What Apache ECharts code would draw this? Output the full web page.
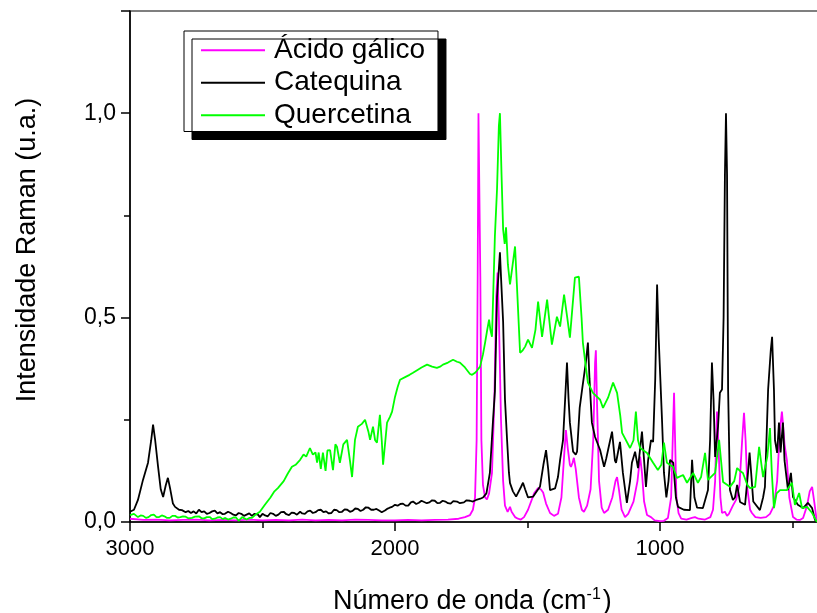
<!DOCTYPE html>
<html>
<head>
<meta charset="utf-8">
<script src="https://cdn.jsdelivr.net/npm/echarts@6/dist/echarts.min.js"></script>
<style>html,body{margin:0;padding:0;background:#fff}#c{width:817px;height:613px}</style>
</head>
<body>
<div id="c"></div>
<script>
var seriesNames = ['Ácido gálico', 'Catequina', 'Quercetina'];
var seriesColors = ['#FF00FF', '#000000', '#00FF00'];
var xTicks = [3000, 2000, 1000];
var yTicks = ['0,0', '0,5', '1,0'];

var acidoGalico = [[3000,0.008],[2950,0.005],[2900,0.006],[2850,0.004],[2800,0.005],[2750,0.006],[2700,0.004],[2650,0.005],[2600,0.004],[2550,0.006],[2500,0.004],[2450,0.005],[2400,0.004],[2350,0.006],[2300,0.004],[2250,0.005],[2200,0.004],[2150,0.006],[2100,0.005],[2050,0.004],[2000,0.004],[1950,0.005],[1900,0.004],[1850,0.005],[1800,0.006],[1760,0.008],[1736,0.012],[1717,0.017],[1706,0.03],[1698,0.06],[1692,0.2],[1688,0.6],[1685,1.0],[1681,1.0],[1678,0.6],[1674,0.2],[1668,0.09],[1660,0.06],[1653,0.055],[1645,0.07],[1634,0.12],[1625,0.3],[1618,0.55],[1613,0.61],[1608,0.5],[1600,0.25],[1592,0.1],[1585,0.04],[1575,0.025],[1566,0.037],[1560,0.025],[1547,0.012],[1536,0.008],[1525,0.006],[1513,0.012],[1498,0.03],[1475,0.07],[1460,0.083],[1450,0.08],[1441,0.072],[1430,0.045],[1415,0.022],[1400,0.015],[1385,0.02],[1372,0.06],[1362,0.16],[1355,0.225],[1348,0.18],[1340,0.14],[1336,0.135],[1330,0.145],[1325,0.157],[1318,0.13],[1306,0.06],[1295,0.03],[1287,0.025],[1275,0.04],[1262,0.08],[1252,0.2],[1245,0.39],[1242,0.42],[1238,0.3],[1230,0.1],[1220,0.035],[1211,0.022],[1196,0.03],[1180,0.06],[1168,0.1],[1162,0.11],[1155,0.08],[1145,0.03],[1132,0.012],[1120,0.02],[1100,0.05],[1085,0.1],[1075,0.16],[1068,0.12],[1060,0.05],[1049,0.017],[1042,0.02],[1034,0.012],[1020,0.004],[1000,0.002],[985,0.003],[970,0.01],[958,0.06],[952,0.2],[947,0.316],[943,0.2],[938,0.06],[930,0.022],[920,0.008],[900,0.006],[880,0.01],[868,0.012],[855,0.008],[830,0.006],[810,0.012],[800,0.03],[792,0.1],[788,0.2],[785,0.27],[780,0.2],[772,0.06],[766,0.022],[755,0.025],[747,0.015],[740,0.02],[725,0.04],[713,0.054],[700,0.09],[690,0.2],[683,0.267],[677,0.2],[670,0.08],[660,0.03],[653,0.022],[640,0.012],[620,0.01],[600,0.012],[585,0.02],[570,0.04],[558,0.1],[548,0.22],[540,0.27],[536,0.24],[530,0.19],[521,0.15],[512,0.06],[498,0.012],[485,0.006],[472,0.005],[460,0.01],[445,0.04],[435,0.075],[426,0.086],[418,0.05],[408,0.0]];

var catequina = [[3000,0.025],[2985,0.03],[2970,0.054],[2951,0.103],[2932,0.145],[2920,0.2],[2913,0.238],[2905,0.2],[2894,0.135],[2884,0.08],[2875,0.061],[2865,0.09],[2857,0.108],[2848,0.08],[2838,0.045],[2830,0.037],[2815,0.03],[2804,0.029],[2790,0.024],[2780,0.027],[2770,0.022],[2760,0.026],[2750,0.021],[2740,0.03],[2730,0.024],[2720,0.026],[2710,0.02],[2700,0.022],[2690,0.026],[2680,0.028],[2670,0.021],[2660,0.024],[2650,0.019],[2642,0.02],[2630,0.025],[2620,0.022],[2610,0.018],[2600,0.016],[2590,0.022],[2580,0.02],[2570,0.015],[2560,0.018],[2550,0.021],[2540,0.015],[2530,0.02],[2517,0.018],[2510,0.012],[2500,0.02],[2490,0.016],[2480,0.014],[2470,0.022],[2460,0.02],[2450,0.015],[2440,0.018],[2430,0.024],[2420,0.025],[2410,0.019],[2400,0.017],[2390,0.023],[2380,0.022],[2370,0.018],[2358,0.025],[2350,0.021],[2340,0.02],[2330,0.026],[2320,0.028],[2310,0.022],[2300,0.024],[2290,0.029],[2280,0.03],[2270,0.024],[2260,0.026],[2250,0.021],[2240,0.022],[2230,0.03],[2220,0.029],[2210,0.024],[2200,0.025],[2190,0.031],[2180,0.03],[2170,0.025],[2160,0.027],[2150,0.033],[2140,0.032],[2130,0.027],[2120,0.03],[2110,0.036],[2100,0.035],[2090,0.03],[2080,0.03],[2070,0.032],[2060,0.028],[2050,0.024],[2045,0.02],[2038,0.028],[2030,0.032],[2020,0.035],[2011,0.037],[2000,0.042],[1990,0.04],[1980,0.044],[1970,0.045],[1960,0.04],[1950,0.04],[1940,0.048],[1932,0.05],[1920,0.044],[1910,0.047],[1900,0.052],[1894,0.05],[1880,0.046],[1870,0.048],[1860,0.053],[1850,0.052],[1840,0.046],[1830,0.047],[1820,0.052],[1810,0.05],[1800,0.046],[1790,0.045],[1780,0.051],[1766,0.05],[1755,0.046],[1740,0.048],[1730,0.053],[1717,0.052],[1706,0.05],[1690,0.055],[1678,0.057],[1668,0.06],[1655,0.07],[1642,0.12],[1630,0.25],[1623,0.32],[1615,0.55],[1608,0.62],[1604,0.66],[1600,0.6],[1592,0.49],[1585,0.3],[1577,0.2],[1570,0.12],[1566,0.095],[1555,0.075],[1543,0.062],[1536,0.065],[1525,0.085],[1517,0.096],[1509,0.08],[1498,0.06],[1479,0.062],[1465,0.075],[1453,0.086],[1440,0.14],[1430,0.176],[1422,0.13],[1415,0.078],[1396,0.082],[1385,0.11],[1377,0.152],[1366,0.2],[1358,0.3],[1351,0.39],[1345,0.3],[1340,0.243],[1328,0.172],[1318,0.165],[1313,0.172],[1303,0.28],[1294,0.324],[1287,0.328],[1280,0.39],[1272,0.439],[1266,0.35],[1257,0.243],[1245,0.208],[1226,0.176],[1211,0.135],[1203,0.155],[1196,0.176],[1181,0.221],[1170,0.15],[1166,0.145],[1151,0.196],[1140,0.12],[1125,0.047],[1113,0.1],[1106,0.145],[1094,0.172],[1083,0.132],[1068,0.221],[1060,0.15],[1053,0.086],[1045,0.15],[1034,0.2],[1026,0.196],[1018,0.35],[1011,0.581],[1005,0.45],[992,0.243],[985,0.12],[976,0.06],[968,0.1],[962,0.152],[955,0.152],[950,0.145],[940,0.06],[932,0.037],[910,0.03],[887,0.029],[879,0.152],[870,0.06],[860,0.035],[838,0.034],[819,0.078],[811,0.2],[804,0.39],[798,0.3],[792,0.159],[781,0.233],[774,0.316],[766,0.324],[760,0.5],[755,0.85],[751,1.0],[747,0.85],[743,0.324],[736,0.078],[725,0.054],[717,0.06],[709,0.091],[698,0.049],[679,0.042],[668,0.12],[662,0.17],[656,0.12],[648,0.05],[641,0.049],[623,0.029],[611,0.06],[604,0.086],[592,0.324],[582,0.42],[577,0.453],[570,0.324],[566,0.2],[558,0.169],[551,0.243],[545,0.17],[536,0.243],[530,0.15],[525,0.15],[517,0.078],[506,0.12],[498,0.061],[480,0.042],[460,0.034],[442,0.047],[426,0.034],[415,0.005],[408,0.0]];

var quercetina = [[3000,0.017],[2985,0.02],[2970,0.012],[2960,0.016],[2950,0.015],[2940,0.01],[2930,0.012],[2920,0.017],[2910,0.018],[2900,0.012],[2890,0.012],[2880,0.016],[2870,0.014],[2860,0.01],[2850,0.01],[2840,0.015],[2830,0.015],[2820,0.011],[2810,0.012],[2800,0.014],[2790,0.013],[2780,0.009],[2766,0.01],[2755,0.013],[2740,0.014],[2730,0.009],[2720,0.009],[2710,0.012],[2698,0.012],[2690,0.007],[2680,0.008],[2670,0.011],[2660,0.012],[2650,0.007],[2642,0.01],[2630,0.006],[2620,0.008],[2610,0.011],[2600,0.011],[2590,0.003],[2577,0.012],[2570,0.008],[2560,0.006],[2550,0.01],[2540,0.01],[2528,0.017],[2510,0.025],[2491,0.042],[2470,0.06],[2455,0.075],[2442,0.083],[2420,0.1],[2405,0.118],[2389,0.135],[2375,0.14],[2358,0.152],[2345,0.165],[2335,0.16],[2321,0.181],[2310,0.165],[2300,0.17],[2294,0.145],[2288,0.17],[2280,0.13],[2272,0.17],[2262,0.125],[2255,0.175],[2245,0.176],[2234,0.127],[2225,0.19],[2219,0.184],[2208,0.145],[2195,0.19],[2181,0.201],[2170,0.15],[2162,0.11],[2151,0.201],[2140,0.233],[2125,0.24],[2113,0.25],[2100,0.22],[2094,0.201],[2083,0.233],[2075,0.2],[2068,0.194],[2057,0.262],[2050,0.2],[2045,0.14],[2030,0.243],[2019,0.257],[2011,0.27],[2000,0.306],[1990,0.33],[1981,0.348],[1960,0.355],[1945,0.36],[1932,0.365],[1915,0.372],[1900,0.378],[1879,0.385],[1860,0.38],[1842,0.377],[1830,0.38],[1819,0.385],[1800,0.39],[1781,0.397],[1766,0.392],[1755,0.39],[1736,0.378],[1717,0.362],[1709,0.36],[1698,0.365],[1691,0.37],[1679,0.38],[1668,0.41],[1660,0.439],[1652,0.47],[1645,0.495],[1640,0.47],[1634,0.453],[1623,0.7],[1615,0.814],[1608,0.97],[1604,1.0],[1598,0.85],[1592,0.716],[1586,0.68],[1581,0.721],[1574,0.63],[1566,0.581],[1558,0.62],[1547,0.674],[1540,0.58],[1528,0.414],[1518,0.42],[1509,0.429],[1498,0.446],[1483,0.426],[1470,0.47],[1460,0.539],[1445,0.453],[1426,0.544],[1408,0.434],[1389,0.502],[1377,0.478],[1362,0.556],[1350,0.5],[1340,0.451],[1321,0.598],[1306,0.6],[1296,0.5],[1291,0.439],[1280,0.38],[1272,0.341],[1253,0.316],[1226,0.299],[1215,0.279],[1196,0.304],[1177,0.341],[1162,0.316],[1150,0.26],[1143,0.218],[1113,0.181],[1100,0.2],[1091,0.27],[1083,0.2],[1075,0.181],[1049,0.169],[1026,0.145],[1008,0.127],[995,0.14],[985,0.194],[974,0.145],[951,0.135],[936,0.108],[913,0.115],[898,0.096],[875,0.12],[857,0.096],[845,0.11],[830,0.169],[819,0.103],[792,0.12],[777,0.201],[762,0.098],[736,0.086],[720,0.1],[709,0.132],[698,0.125],[687,0.12],[670,0.09],[660,0.083],[641,0.086],[626,0.184],[611,0.11],[595,0.16],[585,0.23],[578,0.12],[570,0.034],[560,0.07],[547,0.078],[521,0.078],[502,0.096],[491,0.042],[475,0.071],[464,0.034],[445,0.037],[426,0.022],[408,0.0]];

var dataSets = [acidoGalico, catequina, quercetina];
var FONT = 'Arial, "Liberation Sans", sans-serif';

var chart = echarts.init(document.getElementById('c'), null, {renderer: 'canvas'});
chart.setOption({
  animation: false,
  backgroundColor: '#ffffff',
  grid: {left: 130, top: 11, width: 795, height: 511, containLabel: false, outerBoundsMode: 'none',
    show: true, borderColor: '#000', borderWidth: 1.2, backgroundColor: 'transparent'},
  xAxis: {
    type: 'value', inverse: true, min: 0, max: 3000, interval: 1000,
    axisLine: {show: true, onZero: false, lineStyle: {color: '#000', width: 1.5}},
    axisTick: {show: true, inside: false, length: 9, lineStyle: {color: '#000', width: 1.5}},
    minorTick: {show: true, splitNumber: 2, length: 6, lineStyle: {color: '#000', width: 1.5}},
    splitLine: {show: false},
    axisLabel: {color: '#000', fontFamily: FONT, fontSize: 22, margin: 16,
      formatter: function (v) { return xTicks.indexOf(v) >= 0 ? String(v) : ''; }}
  },
  yAxis: {
    type: 'value', min: 0, max: 1.25, interval: 0.5,
    axisLine: {show: true, onZero: false, lineStyle: {color: '#000', width: 1.5}},
    axisTick: {show: true, inside: false, length: 9, lineStyle: {color: '#000', width: 1.5}},
    minorTick: {show: true, splitNumber: 2, length: 6, lineStyle: {color: '#000', width: 1.5}},
    splitLine: {show: false},
    axisLabel: {color: '#000', fontFamily: FONT, fontSize: 23, margin: 14,
      formatter: function (v) { var i = Math.round(v / 0.5); return (Math.abs(v - i * 0.5) < 1e-6 && yTicks[i]) ? yTicks[i] : ''; }}
  },
  legend: {
    orient: 'vertical', left: 184, top: 31,
    data: seriesNames,
    icon: 'rect',
    itemWidth: 64, itemHeight: 2, itemGap: 0,
    padding: [3, 13, 0, 17],
    backgroundColor: '#ffffff', borderColor: '#000', borderWidth: 1,
    shadowColor: '#000', shadowBlur: 0, shadowOffsetX: 8, shadowOffsetY: 8,
    textStyle: {color: '#000', fontFamily: FONT, fontSize: 28, lineHeight: 32.5, padding: [0, 0, 0, 4]}
  },
  graphic: [
    {type: 'text', left: 333, top: 587, style: {
      text: 'Número de onda (cm{sup|-1})',
      font: '27px ' + FONT, fill: '#000',
      rich: {sup: {fontSize: 16, fontFamily: FONT, verticalAlign: 'top', fill: '#000', padding: [0, 2, 14, 0]}}
    }},
    {type: 'text', x: 28, y: 250, rotation: Math.PI / 2, style: {
      text: 'Intensidade Raman (u.a.)', font: '27px ' + FONT, fill: '#000',
      align: 'center', verticalAlign: 'middle'
    }}
  ],
  series: seriesNames.map(function (n, i) {
    return {
      name: n, type: 'line', data: dataSets[i], symbol: 'none', showSymbol: false,
      lineStyle: {color: seriesColors[i], width: 1.8}, itemStyle: {color: seriesColors[i]},
      z: 2 + i
    };
  })
});
</script>
</body>
</html>
